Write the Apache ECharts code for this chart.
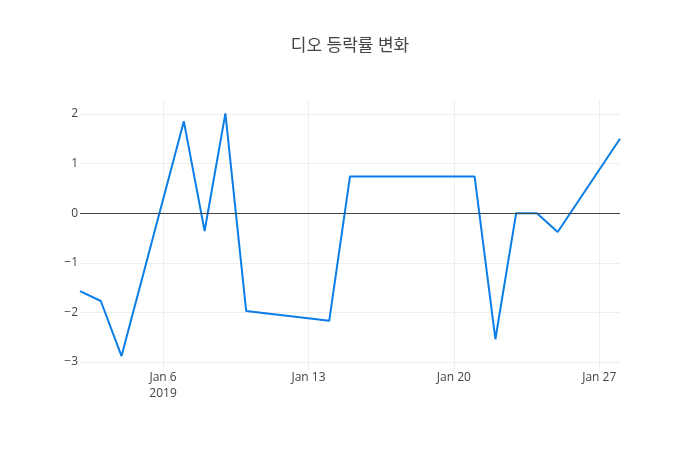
<!DOCTYPE html>
<html>
<head>
<meta charset="utf-8">
<script src="https://cdn.jsdelivr.net/npm/echarts@6/dist/echarts.min.js"></script>
<style>
  html, body { margin: 0; padding: 0; background: #fff; }
  #main { width: 700px; height: 450px; }
</style>
</head>
<body>
<div id="main"></div>
<script>
var dates = ['2019-01-02', '2019-01-03', '2019-01-04', '2019-01-07', '2019-01-08',
  '2019-01-09', '2019-01-10', '2019-01-14', '2019-01-15', '2019-01-21',
  '2019-01-22', '2019-01-23', '2019-01-24', '2019-01-25', '2019-01-28'];
var rates = [-1.57, -1.77, -2.88, 1.85, -0.36, 2.01, -1.97, -2.17, 0.74, 0.74,
  -2.54, 0, 0, -0.38, 1.5];
var xTicks = ['2019-01-06', '2019-01-13', '2019-01-20', '2019-01-27'];
var yTicks = [-3, -2, -1, 0, 1, 2];

function ts(d) {
  var p = d.split('-');
  return Date.UTC(+p[0], +p[1] - 1, +p[2]);
}
var months = ['Jan', 'Feb', 'Mar', 'Apr', 'May', 'Jun', 'Jul', 'Aug', 'Sep', 'Oct', 'Nov', 'Dec'];

var chart = echarts.init(document.getElementById('main'), null, { renderer: 'canvas' });

var option = {
  animation: false,
  backgroundColor: '#fff',
  title: {
    text: '디오 등락률 변화',
    left: 'center',
    top: 33,
    textStyle: {
      fontFamily: '"Open Sans", "Noto Sans CJK KR", sans-serif',
      fontSize: 17,
      fontWeight: 'normal',
      color: '#444'
    }
  },
  grid: { left: 80, right: 80, top: 100, bottom: 80, containLabel: false },
  xAxis: {
    type: 'value',
    min: ts(dates[0]),
    max: ts(dates[dates.length - 1]),
    axisLine: { show: false },
    axisTick: { show: false, customValues: xTicks.map(ts) },
    axisLabel: {
      customValues: xTicks.map(ts),
      color: '#444',
      fontFamily: '"Open Sans", sans-serif',
      fontSize: 12,
      margin: 0,
      lineHeight: 16,
      formatter: function (v) {
        var d = new Date(v);
        var s = months[d.getUTCMonth()] + ' ' + d.getUTCDate();
        if (v === ts(xTicks[0])) s += '\n' + d.getUTCFullYear();
        return s;
      }
    },
    splitLine: { show: true, lineStyle: { color: '#eee', width: 1 } }
  },
  yAxis: {
    type: 'value',
    min: -3.16,
    max: 2.28,
    axisLine: { show: false },
    axisTick: { show: false, customValues: yTicks },
    axisLabel: {
      customValues: yTicks,
      color: '#444',
      fontFamily: '"Open Sans", sans-serif',
      fontSize: 12,
      margin: 2,
      formatter: function (v) { return String(v).replace('-', '\u2212'); }
    },
    splitLine: { show: true, lineStyle: { color: '#eee', width: 1 } }
  },
  series: [{
    type: 'line',
    data: dates.map(function (d, i) { return [ts(d), rates[i]]; }),
    showSymbol: false,
    lineStyle: { color: '#0a7ee6', width: 2 },
    itemStyle: { color: '#0a7ee6' },
    markLine: {
      silent: true,
      symbol: 'none',
      label: { show: false },
      lineStyle: { color: '#444', width: 1, type: 'solid' },
      data: [{ yAxis: 0 }]
    },
    z: 3
  }]
};

chart.setOption(option);
</script>
</body>
</html>
